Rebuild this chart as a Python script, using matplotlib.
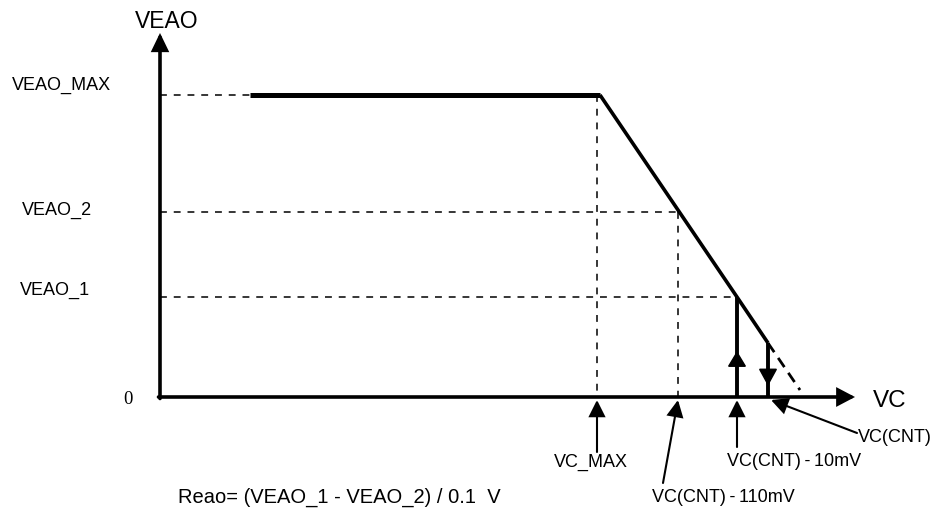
import matplotlib
matplotlib.use("Agg")
import matplotlib.pyplot as plt
from matplotlib.patches import ArrowStyle

# ---- data (diagram units: pixel-like, y grows downward) ----
origin_x, origin_y = 160, 397
axis_x_end, axis_y_end = 855, 33

level_names = ["VEAO_MAX", "VEAO_2", "VEAO_1"]
level_y = [95, 212, 297]

vc_names = ["VC_MAX", "VC(CNT)\u2009-\u2009110mV", "VC(CNT)\u2009-\u200910mV", "VC(CNT)"]
vc_x = [597, 678, 737, 768]

flat_x = [250, 600]
flat_y = [95, 95]
slope_x = [600, 737, 768]
slope_y = [95, 297, 343]
ext_x = [768, 800]
ext_y = [343, 390]

formula = "Reao= (VEAO_1 - VEAO_2) / 0.1  V"

# ---- figure ----
fig = plt.figure(figsize=(9.43, 5.21), dpi=100)
ax = fig.add_axes([0, 0, 1, 1])
ax.set_xlim(0, 943)
ax.set_ylim(521, 0)
ax.axis("off")

SANS = ["Liberation Sans", "DejaVu Sans"]

def head(x0, y0, x1, y1, lw, hl=10.0, hw=5.0):
    ax.annotate("", xy=(x1, y1), xytext=(x0, y0),
                arrowprops=dict(arrowstyle=ArrowStyle("-|>", head_length=hl, head_width=hw),
                                mutation_scale=1, lw=lw, color="black",
                                shrinkA=0, shrinkB=0, joinstyle="miter"))

# axes with arrows
head(origin_x, origin_y + 1.5, origin_x, axis_y_end, 2.6, 9.5, 4.6)
head(origin_x - 1.5, origin_y, axis_x_end, origin_y, 2.6, 9.5, 5.0)

# dashed guide lines
dash_kw = dict(color="black", lw=1.1, linestyle=(0, (4.5, 4.5)))
level_ends = [flat_x[0], vc_x[1], vc_x[2]]
for y, xe in zip(level_y, level_ends):
    ax.plot([origin_x, xe], [y, y], **dash_kw)
ax.plot([vc_x[0], vc_x[0]], [level_y[0], origin_y], **dash_kw)
ax.plot([vc_x[1], vc_x[1]], [level_y[1], origin_y], **dash_kw)

# characteristic curve
ax.plot(flat_x, flat_y, color="black", lw=3.6, solid_capstyle="butt")
ax.plot(slope_x, slope_y, color="black", lw=2.6, solid_capstyle="butt")
ax.plot(ext_x, ext_y, color="black", lw=2.0, linestyle=(0, (4, 2.5)))

# vertical thick lines with direction arrows
ax.plot([vc_x[2], vc_x[2]], [slope_y[1], origin_y], color="black", lw=2.8, solid_capstyle="butt")
head(vc_x[2], 366, vc_x[2], 351, 1.0, 10.0, 6.0)
ax.plot([vc_x[3], vc_x[3]], [slope_y[2], origin_y], color="black", lw=2.8, solid_capstyle="butt")
head(vc_x[3], 369, vc_x[3], 386, 1.0, 11.0, 6.0)

# leader arrows to the VC axis
head(vc_x[0], 452, vc_x[0], 400, 1.5, 10.0, 5.0)
head(663, 483, vc_x[1], 400, 1.5, 10.0, 5.0)
head(vc_x[2], 447, vc_x[2], 400, 1.5, 10.0, 5.0)
head(857, 433, 771, 400, 1.5, 10.0, 5.0)

# labels
ax.text(167, 21, "VEAO", fontsize=16.5, family=SANS, ha="center", va="center")
ax.text(890, 401, "VC", fontsize=17.5, family=SANS, ha="center", va="center")
ax.text(128, 400, "0", fontsize=13.5, family=["Liberation Serif", "DejaVu Serif"],
        ha="center", va="center")
label_pos = [(12, 85), (22, 210), (20, 290)]
for name, (lx, ly) in zip(level_names, label_pos):
    ax.text(lx, ly, name, fontsize=13, family=SANS, ha="left", va="center")

ax.text(591, 462, vc_names[0], fontsize=13, family=SANS, ha="center", va="center")
ax.text(652, 498, vc_names[1], fontsize=13, family=SANS, ha="left", va="center")
ax.text(727, 462, vc_names[2], fontsize=13, family=SANS, ha="left", va="center")
ax.text(858, 438, vc_names[3], fontsize=13, family=SANS, ha="left", va="center")

ax.text(178, 497, formula, fontsize=14.5, family=SANS, ha="left", va="center")

fig.savefig("out.png", dpi=100)
